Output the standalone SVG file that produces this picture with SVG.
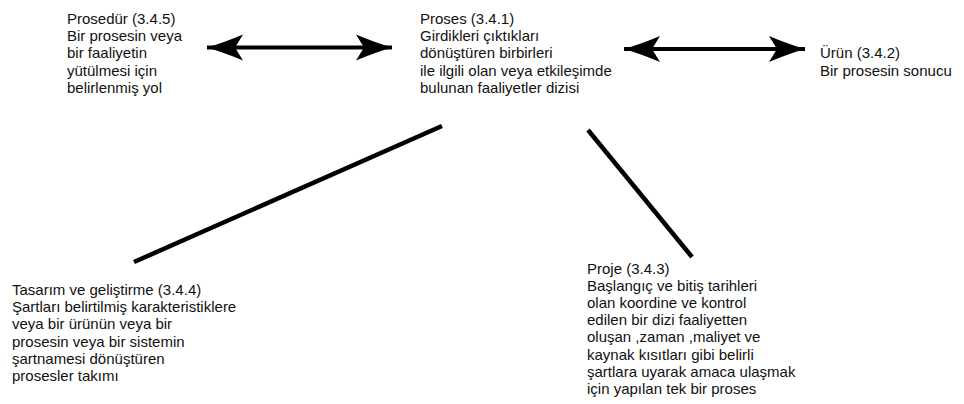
<svg xmlns="http://www.w3.org/2000/svg" width="964" height="404" viewBox="0 0 964 404">
  <style>
    .lbl { font-family: "Liberation Sans", Arial, sans-serif; font-size: 15px; fill: #111; }
    .link { stroke: #000; fill: none; }
    .dbl { stroke-width: 4; marker-start: url(#head); marker-end: url(#head); }
    .plain { stroke-width: 4.5; stroke-linecap: butt; }
  </style>
  <defs>
    <marker id="head" markerUnits="userSpaceOnUse" viewBox="-38 -14 40 28" markerWidth="40" markerHeight="28" refX="0" refY="0" orient="auto-start-reverse">
      <path d="M0,0 Q-17,-5 -36,-13 L-28,0 L-36,13 Q-17,5 0,0 Z" fill="#000"/>
    </marker>
  </defs>

  <rect width="964" height="404" fill="#fff"/>

  <g id="connectors">
    <line class="link dbl" x1="207" y1="47.5" x2="392" y2="47.5"/>
    <line class="link dbl" x1="624" y1="49" x2="805" y2="49"/>
    <line class="link plain" x1="134" y1="262" x2="442" y2="126"/>
    <line class="link plain" x1="588" y1="130" x2="692" y2="257"/>
  </g>

  <g id="prosedur">
    <text class="lbl" x="67" y="24">
      <tspan x="67" dy="0">Prosedür (3.4.5)</tspan>
      <tspan x="67" dy="17.2">Bir prosesin veya</tspan>
      <tspan x="67" dy="17.2">bir faaliyetin</tspan>
      <tspan x="67" dy="17.2">yütülmesi için</tspan>
      <tspan x="67" dy="17.2">belirlenmiş yol</tspan>
    </text>
  </g>

  <g id="proses">
    <text class="lbl" x="420" y="24">
      <tspan x="420" dy="0">Proses (3.4.1)</tspan>
      <tspan x="420" dy="17.2">Girdikleri çıktıkları</tspan>
      <tspan x="420" dy="17.2">dönüştüren birbirleri</tspan>
      <tspan x="420" dy="17.2">ile ilgili olan veya etkileşimde</tspan>
      <tspan x="420" dy="17.2">bulunan faaliyetler dizisi</tspan>
    </text>
  </g>

  <g id="urun">
    <text class="lbl" x="820" y="58.4">
      <tspan x="820" dy="0">Ürün (3.4.2)</tspan>
      <tspan x="820" dy="17.2">Bir prosesin sonucu</tspan>
    </text>
  </g>

  <g id="tasarim">
    <text class="lbl" x="12" y="295">
      <tspan x="12" dy="0">Tasarım ve geliştirme (3.4.4)</tspan>
      <tspan x="12" dy="17.2">Şartları belirtilmiş karakteristiklere</tspan>
      <tspan x="12" dy="17.2">veya bir ürünün veya bir</tspan>
      <tspan x="12" dy="17.2">prosesin veya bir sistemin</tspan>
      <tspan x="12" dy="17.2">şartnamesi dönüştüren</tspan>
      <tspan x="12" dy="17.2">prosesler takımı</tspan>
    </text>
  </g>

  <g id="proje">
    <text class="lbl" x="587" y="273.5">
      <tspan x="587" dy="0">Proje (3.4.3)</tspan>
      <tspan x="587" dy="17.2">Başlangıç ve bitiş tarihleri</tspan>
      <tspan x="587" dy="17.2">olan koordine ve kontrol</tspan>
      <tspan x="587" dy="17.2">edilen bir dizi faaliyetten</tspan>
      <tspan x="587" dy="17.2">oluşan ,zaman ,maliyet ve</tspan>
      <tspan x="587" dy="17.2">kaynak kısıtları gibi belirli</tspan>
      <tspan x="587" dy="17.2">şartlara uyarak amaca ulaşmak</tspan>
      <tspan x="587" dy="17.2">için yapılan tek bir proses</tspan>
    </text>
  </g>
</svg>
